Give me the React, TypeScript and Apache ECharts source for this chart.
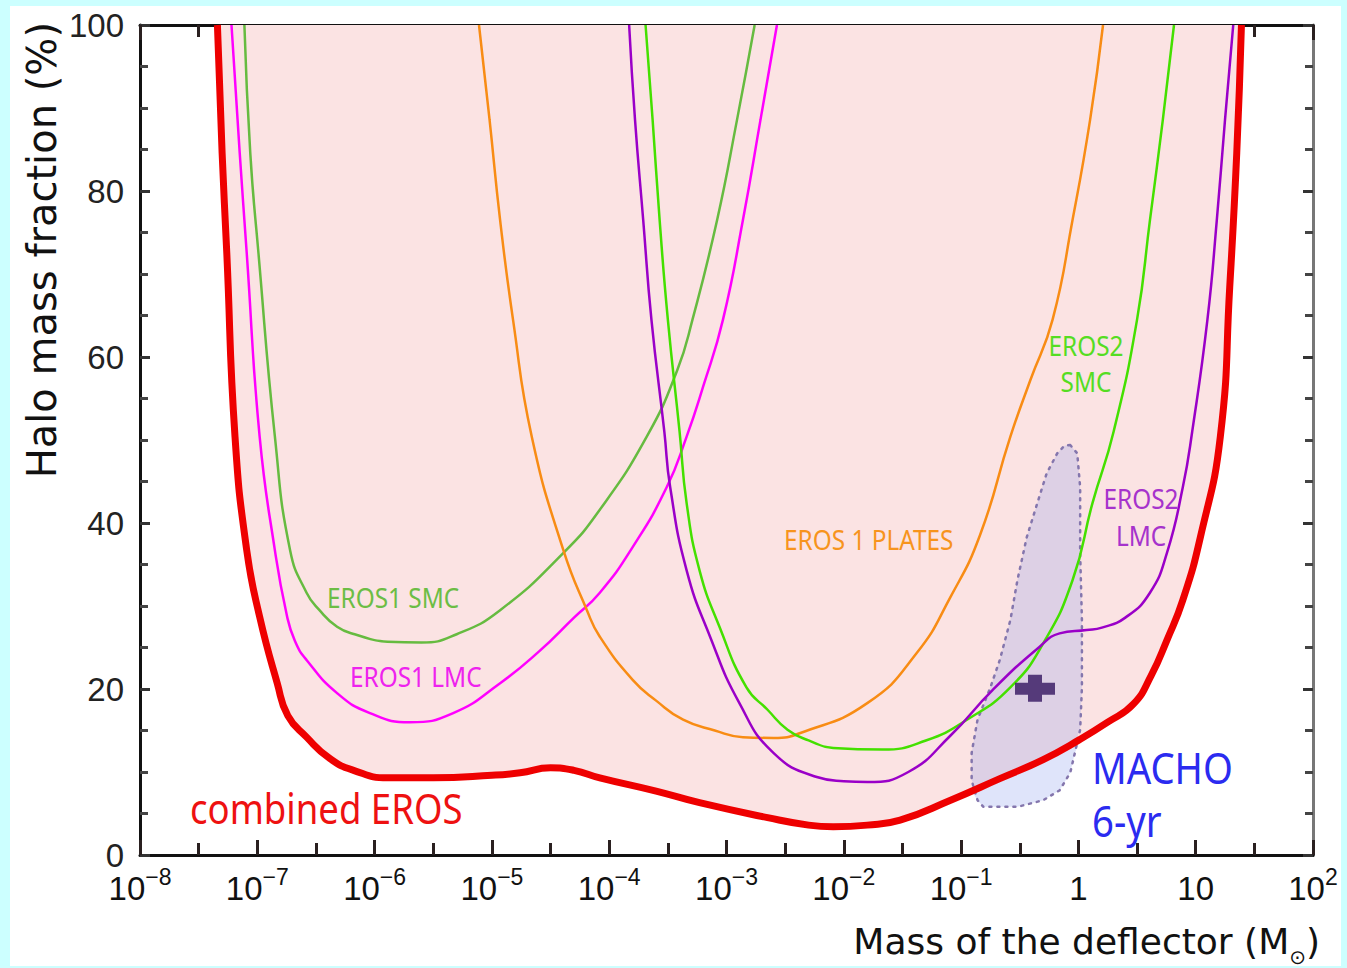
import React, { useEffect, useRef } from "react";
import * as echarts from "echarts";

// Each curve: [log10(M / M_sun), upper limit on halo mass fraction in %]
const COMBINED_EROS: [number, number][] = [
  [-7.34, 100], [-7.30, 84.6], [-7.26, 72.5], [-7.19, 50.4], [-7.09, 36.7], [-6.98, 28.7],
  [-6.83, 20.7], [-6.74, 16.8], [-6.58, 14.2], [-6.38, 11.6], [-6.18, 10.2], [-5.89, 9.3],
  [-5.5, 9.3], [-5.0, 9.6], [-4.76, 9.9], [-4.5, 10.5], [-4.3, 10.2], [-4.08, 9.3],
  [-3.6, 7.7], [-3.23, 6.3], [-2.65, 4.5], [-2.3, 3.6], [-2.09, 3.4], [-1.8, 3.6],
  [-1.52, 4.2], [-1.09, 6.6], [-0.67, 9.2], [-0.3, 11.5], [0.01, 13.9], [0.25, 16.0],
  [0.47, 18.2], [0.62, 21.6], [0.755, 25.9], [0.89, 30.7], [1.04, 38.3], [1.21, 50.4],
  [1.29, 68.4], [1.35, 84.6], [1.39, 100],
];

const EROS1_SMC: [number, number][] = [
  [-7.11, 100], [-7.06, 84.6], [-6.99, 72.5], [-6.85, 50.4], [-6.72, 36.7], [-6.58, 31.6],
  [-6.47, 29.5], [-6.32, 27.5], [-6.17, 26.6], [-5.89, 25.7], [-5.6, 25.6], [-5.3, 26.6],
  [-4.93, 29.5], [-4.39, 36.4], [-4.08, 41.6], [-3.68, 50.4], [-3.42, 58.4], [-3.29, 64.5],
  [-3.08, 76.5], [-2.91, 88.6], [-2.76, 100],
];

const EROS1_LMC: [number, number][] = [
  [-7.22, 100], [-7.15, 84.6], [-7.09, 72.5], [-6.98, 50.4], [-6.85, 36.7], [-6.75, 29.0],
  [-6.68, 25.8], [-6.58, 23.5], [-6.32, 19.5], [-6.04, 17.1], [-5.70, 16.0], [-5.33, 17.1],
  [-4.93, 20.7], [-4.6, 24.5], [-4.3, 28.6], [-4.08, 31.6], [-3.80, 37.1], [-3.51, 44.3],
  [-3.34, 50.4], [-3.20, 56.4], [-3.03, 64.5], [-2.86, 76.5], [-2.71, 88.6], [-2.57, 100],
];

const EROS1_PLATES: [number, number][] = [
  [-5.11, 100], [-5.02, 88.6], [-4.93, 76.5], [-4.82, 64.5], [-4.66, 50.4], [-4.39, 36.7],
  [-4.19, 29.5], [-4.08, 26.3], [-3.80, 21.1], [-3.60, 18.6], [-3.37, 16.3], [-3.10, 15.0],
  [-2.86, 14.2], [-2.60, 14.1], [-2.37, 14.7], [-1.80, 18.3], [-1.38, 24.3], [-1.09, 31.1],
  [-0.84, 38.5], [-0.58, 50.4], [-0.41, 57.2], [-0.22, 64.5], [-0.05, 76.5], [0.10, 88.6],
  [0.21, 100],
];

const EROS2_SMC: [number, number][] = [
  [-3.69, 100], [-3.63, 88.6], [-3.57, 76.5], [-3.50, 64.5], [-3.40, 51.0], [-3.34, 42.4],
  [-3.23, 34.3], [-3.06, 27.5], [-2.83, 20.2], [-2.65, 17.5], [-2.48, 15.1], [-2.30, 13.8],
  [-2.09, 12.9], [-1.67, 12.7], [-1.3, 13.8], [-0.95, 16.3], [-0.58, 20.2], [-0.30, 25.5],
  [-0.05, 33.1], [0.12, 42.4], [0.30, 51.0], [0.50, 64.5], [0.61, 76.5], [0.72, 88.6],
  [0.815, 100],
];

const EROS2_LMC: [number, number][] = [
  [-3.83, 100], [-3.78, 88.6], [-3.71, 76.5], [-3.64, 64.5], [-3.53, 51.0], [-3.48, 44.3],
  [-3.34, 34.3], [-3.14, 26.3], [-2.89, 18.3], [-2.60, 12.3], [-2.23, 9.4], [-2.0, 8.9],
  [-1.80, 8.8], [-1.45, 10.0], [-1.09, 14.4], [-0.73, 19.9], [-0.33, 25.1], [-0.16, 26.7],
  [0.07, 27.1], [0.20, 27.4], [0.40, 28.6], [0.61, 31.6], [0.755, 36.4], [0.89, 44.3],
  [0.97, 51.0], [1.10, 64.5], [1.18, 76.5], [1.25, 88.6], [1.32, 100],
];

// MACHO 6-yr allowed region (closed contour) and its best-fit point
const MACHO_CONTOUR: [number, number][] = [
  [-0.07, 49.4], [-0.01, 48.4], [0.015, 44.3], [0.015, 36.4], [0.03, 28.3], [0.03, 20.2],
  [0.015, 15.1], [-0.03, 12.3], [-0.07, 9.9], [-0.16, 7.8], [-0.30, 6.6], [-0.52, 5.8],
  [-0.81, 5.8], [-0.86, 6.6], [-0.91, 9.0], [-0.91, 12.3], [-0.86, 16.3], [-0.75, 20.2],
  [-0.67, 23.5], [-0.58, 28.3], [-0.52, 33.1], [-0.44, 38.3], [-0.35, 42.4], [-0.27, 46.0],
  [-0.18, 48.4], [-0.12, 49.3],
];
const MACHO_BEST_FIT: [number, number] = [-0.37, 20.1];

// Axis ticks: decades of mass and percent steps
const X_DECADES = [-8, -7, -6, -5, -4, -3, -2, -1, 0, 1, 2];
const Y_TICKS = [0, 20, 40, 60, 80, 100];

const combinedAt = (l: number): number => {
  const pts = COMBINED_EROS;
  if (l <= pts[0][0]) return pts[0][1];
  for (let i = 1; i < pts.length; i++) {
    if (l <= pts[i][0]) {
      const [l0, v0] = pts[i - 1];
      const [l1, v1] = pts[i];
      return v0 + ((v1 - v0) * (l - l0)) / (l1 - l0);
    }
  }
  return pts[pts.length - 1][1];
};

const xLabel = (v: number): string => {
  const e = Math.round(v);
  if (e === 0) return "{b|1}";
  if (e === 1) return "{b|10}";
  return `{b|10}{p|${e < 0 ? "\u2212" : ""}${Math.abs(e)}}`;
};

const SMOOTH = 0.5;

const curve = (data: [number, number][], color: string, width: number, z: number) => ({
  type: "line",
  data,
  smooth: SMOOTH,
  symbol: "none",
  silent: true,
  lineStyle: { color, width },
  z,
});

const xAxisBase = {
  type: "value",
  min: X_DECADES[0],
  max: X_DECADES[X_DECADES.length - 1],
  interval: 1,
  splitLine: { show: false },
  axisLine: { show: true, onZero: false, lineStyle: { color: "#111", width: 3 } },
  axisTick: { show: true, inside: true, length: 15, lineStyle: { color: "#2a2020", width: 3 } },
  minorTick: { show: true, splitNumber: 2, length: 12, lineStyle: { color: "#2a2020", width: 3 } },
};

const yAxisBase = {
  type: "value",
  min: Y_TICKS[0],
  max: Y_TICKS[Y_TICKS.length - 1],
  interval: 20,
  splitLine: { show: false },
  axisTick: { show: true, inside: true, length: 10, lineStyle: { color: "#333", width: 3 } },
  minorTick: { show: true, splitNumber: 4, length: 8, lineStyle: { color: "#444", width: 3 } },
};

const SCALE_X = 0.87;
const labelFont = (size: number) => `${size}px "Noto Sans"`;

const plotText = (text: string, x: number, y: number, color: string, size: number, align = "left") => ({
  type: "text",
  x,
  y,
  scaleX: SCALE_X,
  z: 100,
  silent: true,
  style: { text, font: labelFont(size), fill: color, align, verticalAlign: "middle" },
});

export default function App() {
  const ref = useRef<HTMLDivElement>(null);

  useEffect(() => {
    const chart = echarts.init(ref.current!, null, { renderer: "svg", width: 1347, height: 968 });

    const option: any = {
      animation: false,
      backgroundColor: "#ccffff",
      grid: { left: 140, right: 34, top: 25, bottom: 113, outerBoundsMode: "none" },
      xAxis: [
        {
          ...xAxisBase,
          position: "bottom",
          axisLabel: {
            formatter: xLabel,
            margin: 10,
            color: "#111",
            rich: {
              b: { fontFamily: "Liberation Sans", fontSize: 33, color: "#111", lineHeight: 40, verticalAlign: "bottom" },
              p: { fontFamily: "Liberation Sans", fontSize: 23, color: "#111", lineHeight: 40, verticalAlign: "top" },
            },
          },
        },
        { ...xAxisBase, position: "top", axisLabel: { show: false } },
      ],
      yAxis: [
        {
          ...yAxisBase,
          position: "left",
          axisLine: { show: true, onZero: false, lineStyle: { color: "#111", width: 3 } },
          axisLabel: { fontFamily: "Liberation Sans", fontSize: 33, color: "#222", margin: 16 },
        },
        {
          ...yAxisBase,
          position: "right",
          axisLine: { show: true, onZero: false, lineStyle: { color: "#777", width: 3 } },
          axisLabel: { show: false },
        },
      ],
      series: [
        {
          type: "line",
          data: COMBINED_EROS,
          smooth: SMOOTH,
          symbol: "none",
          silent: true,
          lineStyle: { width: 0, opacity: 0 },
          areaStyle: { color: "#fbe3e3", origin: "end", opacity: 1 },
          z: 1,
        },
        {
          type: "custom",
          coordinateSystem: "cartesian2d",
          silent: true,
          z: 2,
          data: [MACHO_BEST_FIT],
          renderItem: (_params: any, api: any) => {
            const above = MACHO_CONTOUR.map(([l, v]) => api.coord([l, Math.max(v, combinedAt(l))]));
            const below = MACHO_CONTOUR.map(([l, v]) => api.coord([l, Math.min(v, combinedAt(l))]));
            const outline = MACHO_CONTOUR.map((p) => api.coord(p));
            return {
              type: "group",
              children: [
                { type: "polygon", shape: { points: below }, style: { fill: "#dfe4fa" } },
                { type: "polygon", shape: { points: above }, style: { fill: "#ddd0e5" } },
                {
                  type: "polygon",
                  shape: { points: outline },
                  style: { fill: "none", stroke: "#8476ad", lineWidth: 2.5, lineDash: [2, 6], lineCap: "round" },
                },
              ],
            };
          },
        },
        curve(EROS1_SMC, "#66bb40", 2.5, 3),
        curve(EROS1_LMC, "#ff00ff", 2.5, 3),
        curve(EROS1_PLATES, "#f88c14", 2.5, 3),
        curve(EROS2_SMC, "#44e000", 2.5, 3),
        curve(EROS2_LMC, "#9a00c8", 2.5, 3),
        curve(COMBINED_EROS, "#ee0000", 7, 4),
        {
          type: "scatter",
          data: [MACHO_BEST_FIT],
          symbol: "path://M13,0H27V8H40V20H27V27H13V20H0V8H13Z",
          symbolSize: [40, 27],
          symbolKeepAspect: false,
          silent: true,
          itemStyle: { color: "#33145f" },
          z: 6,
        },
      ],
      graphic: [
        { type: "rect", z: -100, silent: true, shape: { x: 10, y: 6, width: 1331, height: 960 }, style: { fill: "#ffffff" } },
        {
          type: "text",
          x: 42,
          y: 22,
          rotation: Math.PI / 2,
          z: 100,
          silent: true,
          style: { text: "Halo mass fraction (%)", font: '40px "DejaVu Sans"', fill: "#111", align: "right", verticalAlign: "middle" },
        },
        {
          type: "text",
          x: 1320,
          y: 945,
          z: 100,
          silent: true,
          style: {
            text: "{t|Mass of the deflector (M}{s|\u2299}{t|)}",
            align: "right",
            verticalAlign: "middle",
            rich: {
              t: { fontFamily: "DejaVu Sans", fontSize: 36, fill: "#111", lineHeight: 44, verticalAlign: "top" },
              s: { fontFamily: "DejaVu Sans", fontSize: 20, fill: "#111", lineHeight: 44, verticalAlign: "bottom" },
            },
          },
        },
        plotText("combined EROS", 190, 808, "#ee1111", 42),
        plotText("EROS1 SMC", 327, 597, "#6cbd45", 28),
        plotText("EROS1 LMC", 350, 676, "#ee22ee", 28),
        plotText("EROS 1 PLATES", 784, 539, "#f7941d", 28),
        plotText("EROS2", 1086, 345, "#55dd22", 28, "center"),
        plotText("SMC", 1086, 381, "#55dd22", 28, "center"),
        plotText("EROS2", 1141, 498, "#a633cc", 28, "center"),
        plotText("LMC", 1141, 535, "#a633cc", 28, "center"),
        plotText("MACHO", 1092, 767, "#2b2bf0", 44),
        plotText("6-yr", 1092, 820, "#2b2bf0", 44),
      ],
    };

    chart.setOption(option);
    return () => chart.dispose();
  }, []);

  return (
    <div style={{ position: "fixed", left: 0, top: 0, width: 1347, height: 968, background: "#ccffff" }}>
      <div ref={ref} style={{ width: 1347, height: 968 }} />
    </div>
  );
}
